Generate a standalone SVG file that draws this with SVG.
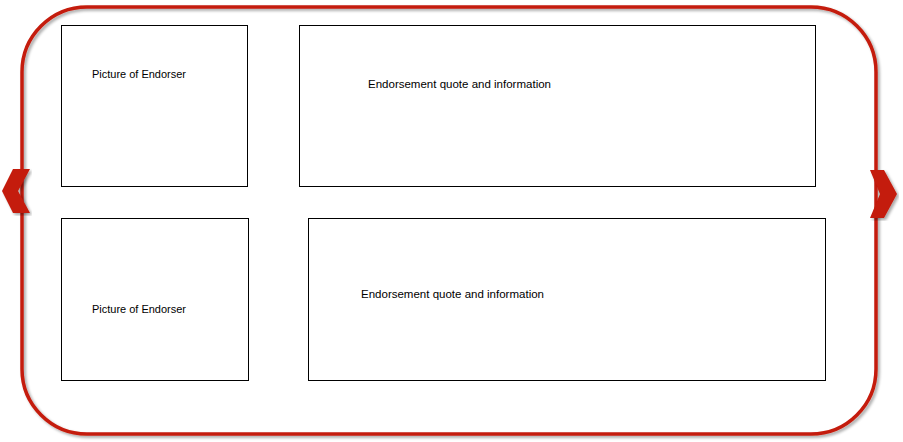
<svg xmlns="http://www.w3.org/2000/svg" width="903" height="442" viewBox="0 0 903 442">
<defs>
<filter id="sh" x="-5%" y="-5%" width="110%" height="110%">
<feGaussianBlur in="SourceAlpha" stdDeviation="1.5"/>
<feOffset dx="2" dy="2"/>
<feComponentTransfer><feFuncA type="linear" slope="0.35"/></feComponentTransfer>
<feMerge><feMergeNode/><feMergeNode in="SourceGraphic"/></feMerge>
</filter>
<style>
.box{fill:#fff;stroke:#000;stroke-width:1}
.lbl{font-family:"Liberation Sans",Arial,sans-serif;font-size:11px;fill:#000}
.chev{fill:#c41a0a}
</style>
</defs>
<rect width="903" height="442" fill="#fff"/>
<g id="frame" filter="url(#sh)">
<rect x="22" y="7" width="854" height="427" rx="65" ry="65" fill="none" stroke="#c41a0a" stroke-width="3.5"/>
</g>
<g id="nav-left" filter="url(#sh)">
<polygon class="chev" points="13,169 30,169 18,191 30,213 13,213 2,191"/>
</g>
<g id="nav-right" filter="url(#sh)">
<polygon class="chev" points="870,170 884,170 897,194 884,218 870,218 880,194"/>
</g>
<g id="pic1">
<rect class="box" x="61.5" y="25.5" width="186" height="161"/>
<text class="lbl" x="92" y="78" textLength="94" lengthAdjust="spacingAndGlyphs">Picture of Endorser</text>
</g>
<g id="quote1">
<rect class="box" x="299.5" y="25.5" width="516" height="161"/>
<text class="lbl" x="368" y="88" textLength="183" lengthAdjust="spacingAndGlyphs">Endorsement quote and information</text>
</g>
<g id="pic2">
<rect class="box" x="61.5" y="218.5" width="187" height="162"/>
<text class="lbl" x="92" y="313" textLength="94" lengthAdjust="spacingAndGlyphs">Picture of Endorser</text>
</g>
<g id="quote2">
<rect class="box" x="308.5" y="218.5" width="517" height="162"/>
<text class="lbl" x="361" y="298" textLength="183" lengthAdjust="spacingAndGlyphs">Endorsement quote and information</text>
</g>
<g id="connectors"/>
</svg>
